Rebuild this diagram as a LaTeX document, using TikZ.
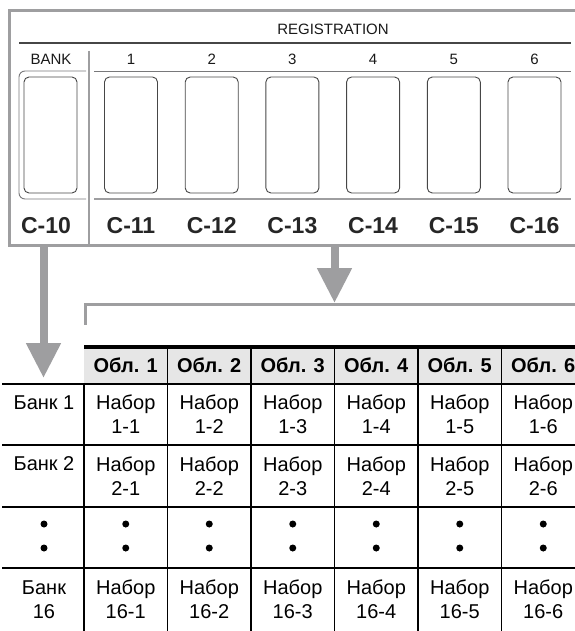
\documentclass[tikz,border=0pt]{standalone}
\usepackage{fontspec}
\setmainfont{Liberation Sans}
\usetikzlibrary{arrows.meta, positioning}
\definecolor{framegray}{RGB}{158,158,160}
\definecolor{keyline}{RGB}{70,70,70}
\definecolor{rulegray}{RGB}{120,120,122}
\definecolor{headbg}{RGB}{230,230,230}
\tikzset{
    panelframe/.style={draw=framegray, line width=3pt},
    keybox/.style={rectangle, draw=keyline, line width=0.9pt, rounded corners=5pt, minimum width=53pt, minimum height=116pt, inner sep=0pt},
    toplabel/.style={font=\fontsize{15}{16}\selectfont, text=black!90, inner sep=0pt, anchor=base},
    keyname/.style={font=\fontsize{23}{26}\selectfont\bfseries, text=black!85, inner sep=0pt, anchor=base},
    cell/.style={font=\fontsize{20}{24}\selectfont, align=center, inner sep=0pt},
    headcell/.style={font=\fontsize{20}{24}\selectfont\bfseries, inner sep=0pt},
    dotmark/.style={circle, fill=black, minimum size=7pt, inner sep=0pt},
    bigarrow/.style={draw=framegray, line width=8pt, -{Triangle[length=35pt, width=33pt]}},
    gridline/.style={draw=black, line width=1.2pt}
}
\begin{document}
\begin{tikzpicture}[x=1pt, y=-1pt]
    \useasboundingbox (0,0) rectangle (574,631);

    % panel
    \draw [panelframe] (590,10.5) -- (9.5,10.5) -- (9.5,245) -- (590,245);
    \node (regtitle) [toplabel] at (333,35) {REGISTRATION};
    \draw [keyline, line width=1.6pt] (19,43) -- (571,43);
    \node (banktitle) [toplabel] at (51,64.5) {BANK};
    \draw [rulegray, line width=0.9pt, rounded corners=6pt] (86,71) -- (19,71) -- (19,199) -- (86,199);
    \draw [framegray, line width=2.5pt] (89,51) -- (89,245);
    \draw [rulegray, line width=0.9pt] (94,71) -- (571,71);
    \draw [framegray, line width=2pt] (94,199) -- (571,199);

    \node (key0) [keybox] at (50.5,135) {};
    \node (c10)  [keyname] at (46,233.5) {C-10};
    \foreach \i in {1,...,6} {
        \node (num\i) [toplabel] at ({131+80.7*(\i-1)},64.5) {\i};
        \node (key\i) [keybox] at ({131+80.7*(\i-1)},135) {};
        \node (c1\i)  [keyname] at ({131+80.7*(\i-1)},233.5) {C-1\i};
    }

    % arrows
    \coordinate (bankout) at (43.5,246);
    \coordinate (bankin)  at (43.5,378);
    \coordinate (regout)  at (334.5,246);
    \coordinate (regin)   at (334.5,303);
    \draw [bigarrow] (bankout) -- (bankin);
    \draw [bigarrow] (regout) -- (regin);
    \draw [framegray, line width=3pt] (590,304) -- (85.5,304) -- (85.5,325);

    % table
    \fill [headbg] (84,347) rectangle (590,384);
    \draw [black, line width=3.5pt] (84,347) -- (590,347);
    \foreach \y in {384,445,507,568}
        \draw [gridline] (2,\y) -- (590,\y);
    \draw [gridline] (84,384) -- (84,640);
    \foreach \c in {1,...,6}
        \draw [gridline] ({84+83.5*\c},347) -- ({84+83.5*\c},640);

    \foreach \c in {1,...,6} {
        \pgfmathsetmacro\cx{125.75+83.5*(\c-1)}
        \node (head\c)   [headcell] at (\cx,365.5) {Обл. \c};
        \node (set1-\c)  [cell] at (\cx,414.5) {Набор\\1-\c};
        \node (set2-\c)  [cell] at (\cx,476) {Набор\\2-\c};
        \node (dota-\c)  [dotmark] at (\cx,524) {};
        \node (dotb-\c)  [dotmark] at (\cx,548) {};
        \node (set16-\c) [cell] at (\cx,599.5) {Набор\\16-\c};
    }
    \node (bank1)  [cell] at (44,403) {Банк 1};
    \node (bank2)  [cell] at (44,464) {Банк 2};
    \node (dota-0) [dotmark] at (44,524) {};
    \node (dotb-0) [dotmark] at (44,548) {};
    \node (bank16) [cell] at (44,599.5) {Банк\\16};

\end{tikzpicture}
\end{document}
